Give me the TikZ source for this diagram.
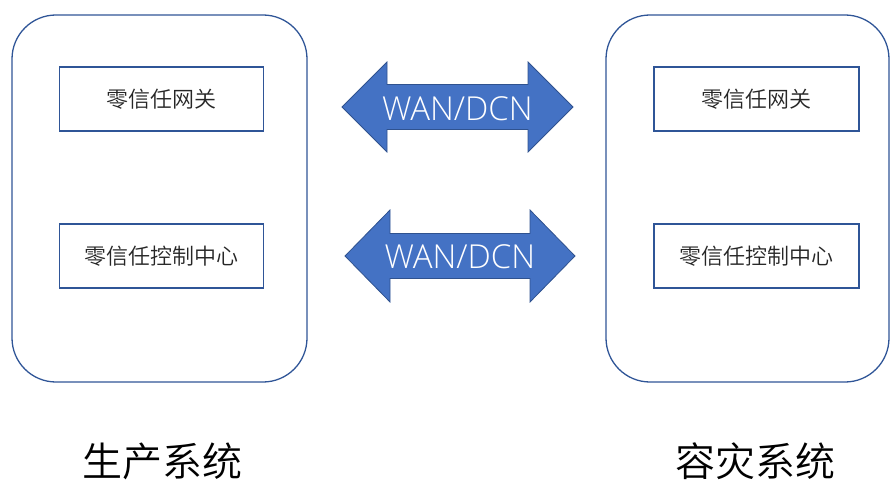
\documentclass[tikz,border=0pt]{standalone}
\usepackage{fontspec}
\IfFontExistsTF{Noto Sans CJK SC DemiLight}
  {\setmainfont{Noto Sans CJK SC DemiLight}}
  {\IfFontExistsTF{Noto Sans CJK SC Light}
    {\setmainfont{Noto Sans CJK SC Light}}
    {\setmainfont{Noto Sans CJK SC}}}
\IfFontExistsTF{Open Sans Light}
  {\newfontfamily\latinfont{Open Sans Light}}
  {\newfontfamily\latinfont{Open Sans}}
\definecolor{frame}{HTML}{2F5597}
\definecolor{arrowfill}{HTML}{4472C4}
\definecolor{arrowline}{HTML}{2F528F}
\definecolor{txt}{HTML}{262626}
\begin{document}
\begin{tikzpicture}[x=1pt,y=-1pt,
  sysbox/.style={draw=frame,line width=1.3pt,rounded corners=44pt,inner sep=0pt},
  compbox/.style={draw=frame,line width=1.3pt,inner sep=0pt,minimum width=204pt,minimum height=64pt,
    font=\fontsize{22}{24}\selectfont,text=txt},
  arrowshape/.style={fill=arrowfill,draw=arrowline,line width=0.8pt,line join=miter},
  arrowtext/.style={text=white,font=\latinfont\fontsize{33}{36}\selectfont,inner sep=0pt},
  syslabel/.style={font=\fontsize{40}{44}\selectfont,text=black,anchor=base,inner sep=0pt}]
\useasboundingbox (0,0) rectangle (891,481);
\clip (0,0) rectangle (891,481);
% system frames
\node[sysbox,minimum width=295pt,minimum height=367pt] (prod) at (159.5,198.5) {};
\node[sysbox,minimum width=283pt,minimum height=367pt] (dr) at (747.5,198.5) {};
% components
\node[compbox] (gwL) at (161.5,99) {零信任网关};
\node[compbox] (ccL) at (161.5,256) {零信任控制中心};
\node[compbox,minimum width=205pt] (gwR) at (756.5,99) {零信任网关};
\node[compbox,minimum width=205pt] (ccR) at (756.5,256) {零信任控制中心};
% double arrows
\coordinate (a1L) at (342,107);
\coordinate (a1R) at (573,107);
\draw[arrowshape] (a1L) -- (387,62) -- (387,84.5) -- (528,84.5) -- (528,62) -- (a1R)
  -- (528,152) -- (528,129.5) -- (387,129.5) -- (387,152) -- cycle;
\node[arrowtext] (w1) at (457.5,109) {WAN/DCN};
\coordinate (a2L) at (345,256);
\coordinate (a2R) at (575,256);
\draw[arrowshape] (a2L) -- (390,210) -- (390,233.5) -- (530,233.5) -- (530,210) -- (a2R)
  -- (530,302) -- (530,278.5) -- (390,278.5) -- (390,302) -- cycle;
\node[arrowtext] (w2) at (460,257) {WAN/DCN};
% labels
\node[syslabel] (lp) at (162,476) {生产系统};
\node[syslabel] (ld) at (755,476) {容灾系统};
\end{tikzpicture}
\end{document}
